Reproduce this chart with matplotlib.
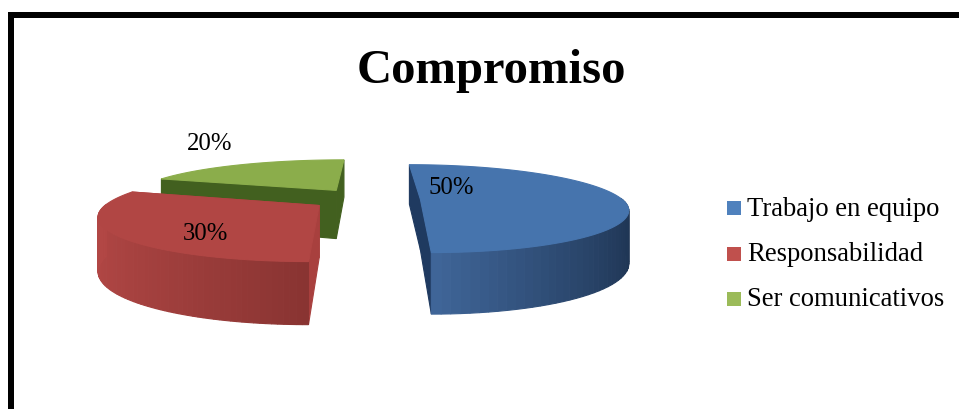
import numpy as np
import matplotlib
matplotlib.use("Agg")
import matplotlib.pyplot as plt
from matplotlib.colors import to_rgb
from matplotlib.patches import Rectangle

plt.rcParams['font.family'] = ['Liberation Serif', 'DejaVu Serif']

# data
title = "Compromiso"
labels = ["Trabajo en equipo", "Responsabilidad", "Ser comunicativos"]
values = [50, 30, 20]

# slice styling
top_colors = ["#4674ad", "#b14644", "#8bad4b"]
legend_colors = ["#4f81bd", "#c0504d", "#9bbb59"]
wall_left = ["#3f6598", "#b24745", "#4c6b25"]
wall_right = ["#1e3452", "#893432", "#3d5a1c"]
side_colors = ["#1f3a60", "#a8403e", "#42601f"]
shifts = [(0.235, 0.05), (-0.23, 0.19), (-0.165, -0.16)]  # exploded slice offsets
widths = [0.94, 0.97, 0.98]
label_pos = [(451, 194), (206, 240), (210, 150)]

# projection of the tilted pie, in pixels
XC, YC = 370, 197
RX, RY = 212, 43
PERSP = 0.22
DEPTH = 50


def project(x, y, z=0.0):
    s = 1 + PERSP * y
    return XC + RX * x * s, YC + RY * y * s + DEPTH * z * s


def blend(c1, c2, t):
    return tuple((1 - t) * a + t * b for a, b in zip(to_rgb(c1), to_rgb(c2)))


def poly(ax, pts, color, z):
    xs, ys = zip(*pts)
    ax.fill(xs, ys, facecolor=color, edgecolor=color, linewidth=0.8, zorder=z)


def draw_slice(ax, i, start, end, z):
    # angles run clockwise from the back of the pie
    dx, dy = shifts[i]
    w = widths[i]
    th = np.radians(np.linspace(start, end, 80))
    x = dx + w * np.sin(th)
    y = dy - np.cos(th)
    cx, cy = dx, dy

    # radial faces
    for a in (start, end):
        ex, ey = dx + w * np.sin(np.radians(a)), dy - np.cos(np.radians(a))
        poly(ax, [project(cx, cy), project(ex, ey), project(ex, ey, 1), project(cx, cy, 1)],
             side_colors[i], z)

    # outer wall, only where it faces the viewer
    front = np.where(y[:-1] > dy - 0.02)[0]
    if len(front):
        xmin, xmax = x[front].min(), x[front].max()
        for k in front:
            t = (x[k] - xmin) / max(xmax - xmin, 1e-6)
            poly(ax, [project(x[k], y[k]), project(x[k + 1], y[k + 1]),
                      project(x[k + 1], y[k + 1], 1), project(x[k], y[k], 1)],
                 blend(wall_left[i], wall_right[i], t), z + 0.1)

    # top face
    pts = [project(cx, cy)] + [project(a, b) for a, b in zip(x, y)]
    poly(ax, pts, top_colors[i], z + 0.2)


fig = plt.figure(figsize=(9.59, 4.09), dpi=100)
ax = fig.add_axes([0, 0, 1, 1])
ax.set_xlim(0, 959)
ax.set_ylim(409, 0)
ax.axis('off')

# chart frame, runs off the right and bottom
ax.add_patch(Rectangle((8, 12), 951, 5.5, facecolor='black', edgecolor='none'))
ax.add_patch(Rectangle((8, 12), 6, 397, facecolor='black', edgecolor='none'))

ax.text(491, 83, title, fontsize=35, fontweight='bold', ha='center', va='baseline')

angles = np.concatenate([[0], np.cumsum(values) / np.sum(values) * 360])
order = [2, 1, 0]
for n, i in enumerate(order):
    draw_slice(ax, i, angles[i], angles[i + 1], 2 + n)

for i, (px, py) in enumerate(label_pos):
    ax.text(px, py, f"{values[i]}%", fontsize=17.8, ha='center', va='baseline', zorder=10)

# legend
for i, (name, col) in enumerate(zip(labels, legend_colors)):
    y0 = 208 + 45.5 * i
    ax.add_patch(Rectangle((727, y0 - 7), 14, 14, facecolor=col, edgecolor='none'))
    ax.text(747, y0 + 7.5, name, fontsize=19.2, ha='left', va='baseline')

fig.savefig("out.png", dpi=100)
